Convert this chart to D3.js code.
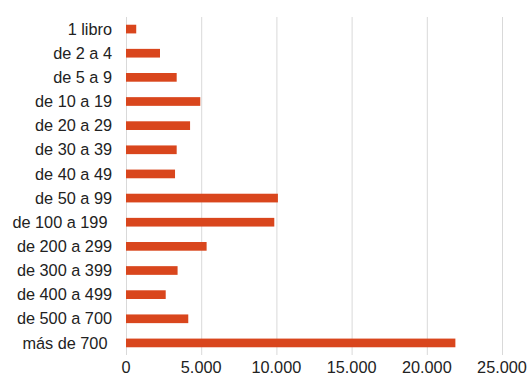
<!DOCTYPE html>
<html><head><meta charset="utf-8">
<script src="https://cdn.jsdelivr.net/npm/d3@7"></script>
<style>
html,body{margin:0;padding:0;background:#fff;}
svg text{font-family:"Liberation Sans",Arial,sans-serif;white-space:pre;}
</style>
</head><body>
<svg id="c" width="529" height="379"></svg>
<script>
const categories = ["1 libro","de 2 a 4","de 5 a 9","de 10 a 19","de 20 a 29","de 30 a 39","de 40 a 49","de 50 a 99","de 100 a 199 ","de 200 a 299","de 300 a 399","de 400 a 499","de 500 a 700","más de 700 "];
const values = [680,2260,3370,4940,4260,3370,3260,10100,9860,5360,3430,2640,4140,21900];
const tickValues = [0,5000,10000,15000,20000,25000];
const tickLabels = ["0","5.000","10.000","15.000","20.000","25.000"];

const svg = d3.select("#c");
const m = {left:126, right:27, top:17, bottom:24};
const W = 529, H = 379;
const x = d3.scaleLinear().domain([0,25000]).range([m.left, W - m.right]);
const y = d3.scaleBand().domain(categories).range([m.top, 355]).paddingInner(0.64).paddingOuter(0.32);

svg.append("g").selectAll("line").data(tickValues).join("line")
  .attr("x1", d=>x(d)+0.5).attr("x2", d=>x(d)+0.5)
  .attr("y1", m.top).attr("y2", 355)
  .attr("stroke", "#d9d9d9").attr("stroke-width", 1);

svg.append("g").selectAll("rect").data(values).join("rect")
  .attr("x", x(0)).attr("y", (d,i)=>y(categories[i]))
  .attr("width", d=>x(d)-x(0)).attr("height", y.bandwidth())
  .attr("fill", "#d9461d");

svg.append("g").selectAll("text").data(categories).join("text")
  .attr("x", 112).attr("y", d=>y(d)+y.bandwidth()/2)
  .attr("dy","0.35em").attr("text-anchor","end")
  .attr("font-size", 16.3).attr("fill","#222").text(d=>d);

svg.append("g").selectAll("text").data(tickValues).join("text")
  .attr("x", d=>x(d)).attr("y", 373)
  .attr("text-anchor","middle").attr("font-size",16.3).attr("fill","#222")
  .text((d,i)=>tickLabels[i]);
</script>
</body></html>
